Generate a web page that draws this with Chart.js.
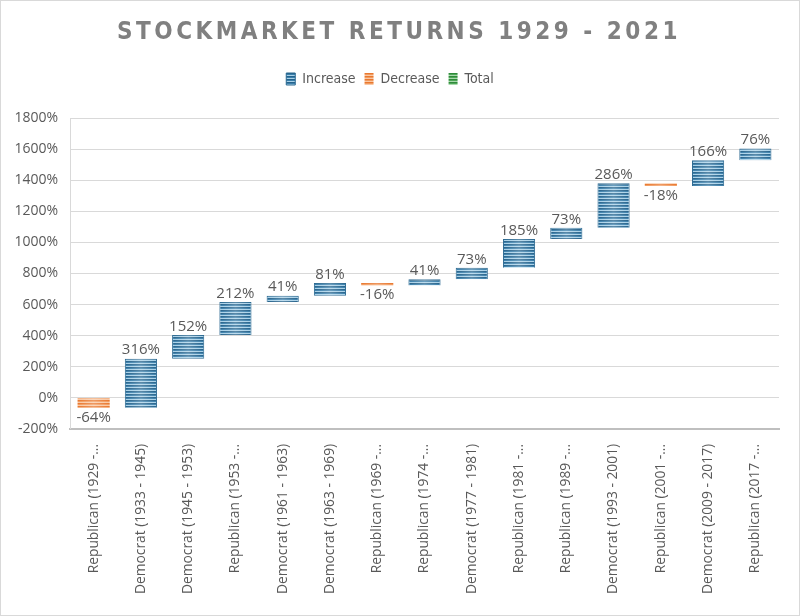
<!DOCTYPE html>
<html>
<head>
<meta charset="utf-8">
<script src="https://cdn.jsdelivr.net/npm/chart.js@4.4.1/dist/chart.umd.min.js"></script>
<style>
  html, body { margin: 0; padding: 0; background: #fff; }
  #wrap { width: 798px; height: 614px; border: 1px solid #d9d9d9; }
</style>
</head>
<body>
<div id="wrap"><canvas id="chart" width="798" height="614"></canvas></div>
<script>
// presidential terms and market change in each (%)
var terms = [
  "Republican (1929 - 1933)", "Democrat (1933 - 1945)", "Democrat (1945 - 1953)",
  "Republican (1953 - 1961)", "Democrat (1961 - 1963)", "Democrat (1963 - 1969)",
  "Republican (1969 - 1974)", "Republican (1974 - 1977)", "Democrat (1977 - 1981)",
  "Republican (1981 - 1989)", "Republican (1989 - 1993)", "Democrat (1993 - 2001)",
  "Republican (2001 - 2009)", "Democrat (2009 - 2017)", "Republican (2017 - 2021)"
];
var changes = [-64, 316, 152, 212, 41, 81, -16, 41, 73, 185, 73, 286, -18, 166, 76];
var yTicks = [-200, 0, 200, 400, 600, 800, 1000, 1200, 1400, 1600, 1800];

// running total -> floating bars
var increase = [], decrease = [];
var run = 0;
changes.forEach(function(c){
  var start = run;
  run += c;
  if (c >= 0) { increase.push([start, run]); decrease.push(null); }
  else { decrease.push([start, run]); increase.push(null); }
});

function stripes(colors){
  var c = document.createElement('canvas');
  c.width = 4; c.height = colors.length;
  var x = c.getContext('2d');
  colors.forEach(function(col, i){ x.fillStyle = col; x.fillRect(0, i, 4, 1); });
  return x.createPattern(c, 'repeat');
}
var blueFill = stripes(['#25628b', '#3a7fab', '#a8d0e7']);
var orangeFill = stripes(['#e9782f', '#f19a5e', '#f9c8a4']);
var greenFill = stripes(['#2f8a3a', '#4ea657', '#a8d8ac']);

var gray = '#595959';
var narrow = '"DejaVu Sans Condensed", "Liberation Sans Narrow", "DejaVu Sans", sans-serif';

var titlePlugin = {
  id: 'spacedTitle',
  beforeLayout: function(chart){
    // leave a gap between legend and plot
    var lg = chart.legend;
    if (lg && !lg._gap) {
      var fit = lg.fit;
      lg.fit = function(){ fit.call(this); this.height += 22; };
      lg._gap = true;
    }
  },
  afterDraw: function(chart){
    var ctx = chart.ctx;
    ctx.save();
    ctx.font = 'bold 24px ' + narrow;
    ctx.letterSpacing = '3.5px';
    ctx.fillStyle = '#808080';
    ctx.textAlign = 'center';
    ctx.textBaseline = 'middle';
    ctx.fillText('STOCKMARKET RETURNS 1929 - 2021', chart.width / 2 - 1, 32);
    ctx.restore();
  }
};

var labelPlugin = {
  id: 'barLabels',
  afterDatasetsDraw: function(chart){
    var ctx = chart.ctx;
    ctx.save();
    ctx.font = '15px "Open Sans", sans-serif';
    ctx.textAlign = 'center';
    [0, 1].forEach(function(di){
      var meta = chart.getDatasetMeta(di);
      meta.data.forEach(function(bar, i){
        var v = chart.data.datasets[di].data[i];
        if (!v) return;
        var top = Math.min(bar.y, bar.base), bottom = Math.max(bar.y, bar.base);
        // soft highlight in the middle of each bar
        var g = ctx.createLinearGradient(bar.x - bar.width / 2, 0, bar.x + bar.width / 2, 0);
        g.addColorStop(0, 'rgba(255,255,255,0)');
        g.addColorStop(0.5, 'rgba(255,255,255,0.25)');
        g.addColorStop(1, 'rgba(255,255,255,0)');
        ctx.fillStyle = g;
        ctx.fillRect(bar.x - bar.width / 2, top, bar.width, bottom - top);
        ctx.fillStyle = gray;
        if (changes[i] >= 0) {
          ctx.textBaseline = 'bottom';
          ctx.fillText(changes[i] + '%', bar.x, top - 1);
        } else {
          ctx.textBaseline = 'top';
          ctx.fillText(changes[i] + '%', bar.x, bottom + 2);
        }
      });
    });
    ctx.restore();
  }
};

var canvas = document.getElementById('chart').getContext('2d');
window.bar = new Chart(canvas, {
  type: 'bar',
  data: {
    labels: terms,
    datasets: [{
      label: 'Increase',
      data: increase,
      backgroundColor: blueFill,
      borderColor: '#2a6890',
      borderWidth: 1,
      grouped: false
    }, {
      label: 'Decrease',
      data: decrease,
      backgroundColor: orangeFill,
      borderColor: '#e9782f',
      borderWidth: 0,
      grouped: false
    }, {
      label: 'Total',
      data: [],
      backgroundColor: greenFill,
      grouped: false
    }]
  },
  options: {
    responsive: false,
    animation: false,
    barPercentage: 0.68,
    categoryPercentage: 1,
    layout: { padding: { top: 62, left: 0, right: 20, bottom: 6 } },
    plugins: {
      title: { display: false },
      tooltip: { enabled: false },
      legend: {
        position: 'top',
        labels: {
          color: gray,
          boxWidth: 9,
          boxHeight: 12,
          padding: 9,
          font: { size: 14, family: narrow }
        }
      }
    },
    scales: {
      x: {
        grid: { display: false, drawTicks: false },
        border: { color: '#bfbfbf', width: 2 },
        ticks: {
          color: gray,
          minRotation: 90,
          maxRotation: 90,
          padding: 15,
          autoSkip: false,
          font: { size: 13.8, family: '"Open Sans", sans-serif' },
          callback: function(v){
            var s = this.getLabelForValue(v);
            return s.length > 22 ? s.slice(0, 18) + '...' : s;
          }
        }
      },
      y: {
        min: yTicks[0],
        max: yTicks[yTicks.length - 1],
        afterBuildTicks: function(axis){ axis.ticks = yTicks.map(function(v){ return { value: v }; }); },
        afterFit: function(axis){ axis.width = 69; },
        grid: { color: '#d9d9d9', drawTicks: false },
        border: { color: '#d9d9d9' },
        ticks: {
          color: gray,
          padding: 12,
          font: { size: 14, family: '"Open Sans", sans-serif' },
          callback: function(v){ return v + '%'; }
        }
      }
    }
  },
  plugins: [titlePlugin, labelPlugin]
});
</script>
</body>
</html>
